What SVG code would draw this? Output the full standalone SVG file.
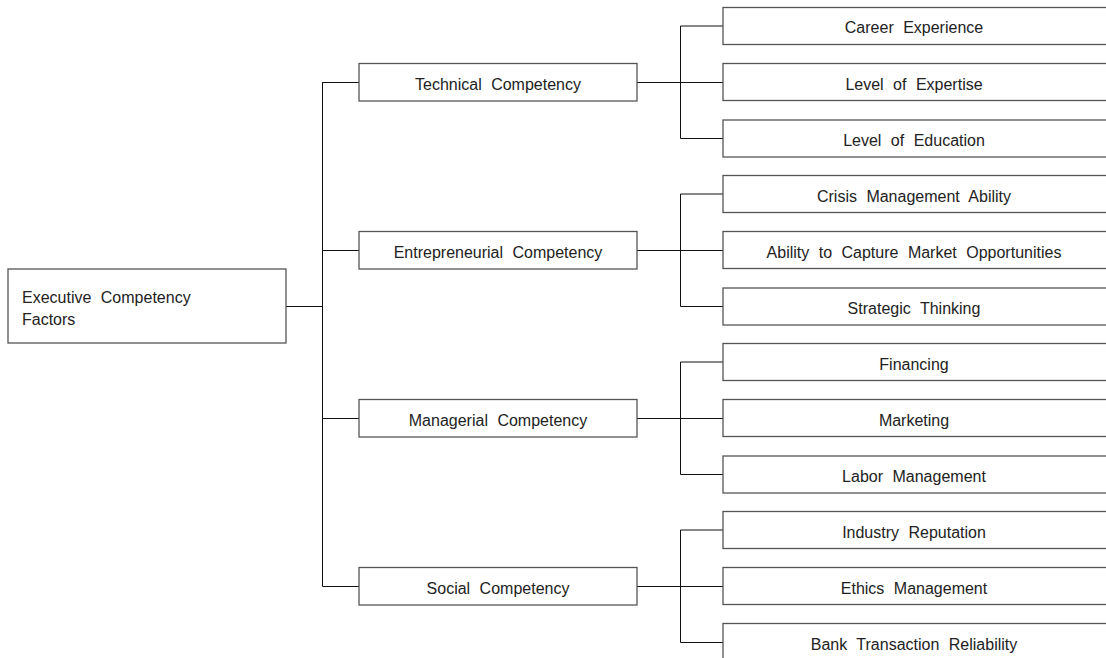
<svg xmlns="http://www.w3.org/2000/svg" width="1106" height="658" viewBox="0 0 1106 658">
<style>
.box{fill:#fff;stroke:#555;stroke-width:1.3}
.t{font-family:"Liberation Sans",Arial,sans-serif;font-size:16px;fill:#222;word-spacing:5px}
.c{text-anchor:middle}
.ln{stroke:#111;stroke-width:1;fill:none}
</style>
<rect width="1106" height="658" fill="#fff"/>
<g id="connectors">
<path class="ln" d="M286 306.5H322.5M322.5 82V586.5M322.5 82.5H359M322.5 250.5H359M322.5 418.5H359M322.5 586.5H359"/>
<path class="ln" d="M637 82.5H680.5M680.5 26V138.5M680.5 26H723M680.5 82.5H723M680.5 138.5H723"/>
<path class="ln" d="M637 250.5H680.5M680.5 194V306.5M680.5 194H723M680.5 250.5H723M680.5 306.5H723"/>
<path class="ln" d="M637 418.5H680.5M680.5 362V474.5M680.5 362H723M680.5 418.5H723M680.5 474.5H723"/>
<path class="ln" d="M637 586.5H680.5M680.5 530V642.5M680.5 530H723M680.5 586.5H723M680.5 642.5H723"/>
</g>
<g id="root"><rect class="box" x="8" y="269" width="278" height="74"/><text class="t" x="22" y="303">Executive Competency</text><text class="t" x="22" y="325">Factors</text></g>
<g id="technical"><rect class="box" x="359" y="63.5" width="278" height="37.5"/><text class="t c" x="498" y="89.5">Technical Competency</text></g>
<g id="entrepreneurial"><rect class="box" x="359" y="231.5" width="278" height="37.5"/><text class="t c" x="498" y="257.5">Entrepreneurial Competency</text></g>
<g id="managerial"><rect class="box" x="359" y="399.5" width="278" height="37.5"/><text class="t c" x="498" y="425.5">Managerial Competency</text></g>
<g id="social"><rect class="box" x="359" y="567.5" width="278" height="37.5"/><text class="t c" x="498" y="593.5">Social Competency</text></g>
<g id="career"><rect class="box" x="723" y="7.5" width="400" height="37"/><text class="t c" x="914" y="33.3">Career Experience</text></g>
<g id="expertise"><rect class="box" x="723" y="63.5" width="400" height="37"/><text class="t c" x="914" y="89.5">Level of Expertise</text></g>
<g id="education"><rect class="box" x="723" y="120" width="400" height="37"/><text class="t c" x="914" y="145.5">Level of Education</text></g>
<g id="crisis"><rect class="box" x="723" y="175.5" width="400" height="37"/><text class="t c" x="914" y="201.5">Crisis Management Ability</text></g>
<g id="market"><rect class="box" x="723" y="231.5" width="400" height="37"/><text class="t c" x="914" y="257.5">Ability to Capture Market Opportunities</text></g>
<g id="strategic"><rect class="box" x="723" y="288" width="400" height="37"/><text class="t c" x="914" y="313.5">Strategic Thinking</text></g>
<g id="financing"><rect class="box" x="723" y="343.5" width="400" height="37"/><text class="t c" x="914" y="369.5">Financing</text></g>
<g id="marketing"><rect class="box" x="723" y="399.5" width="400" height="37"/><text class="t c" x="914" y="425.5">Marketing</text></g>
<g id="labor"><rect class="box" x="723" y="456" width="400" height="37"/><text class="t c" x="914" y="481.5">Labor Management</text></g>
<g id="reputation"><rect class="box" x="723" y="511.5" width="400" height="37"/><text class="t c" x="914" y="537.5">Industry Reputation</text></g>
<g id="ethics"><rect class="box" x="723" y="567.5" width="400" height="37"/><text class="t c" x="914" y="593.5">Ethics Management</text></g>
<g id="bank"><rect class="box" x="723" y="623.5" width="400" height="37"/><text class="t c" x="914" y="649.5">Bank Transaction Reliability</text></g>
</svg>
